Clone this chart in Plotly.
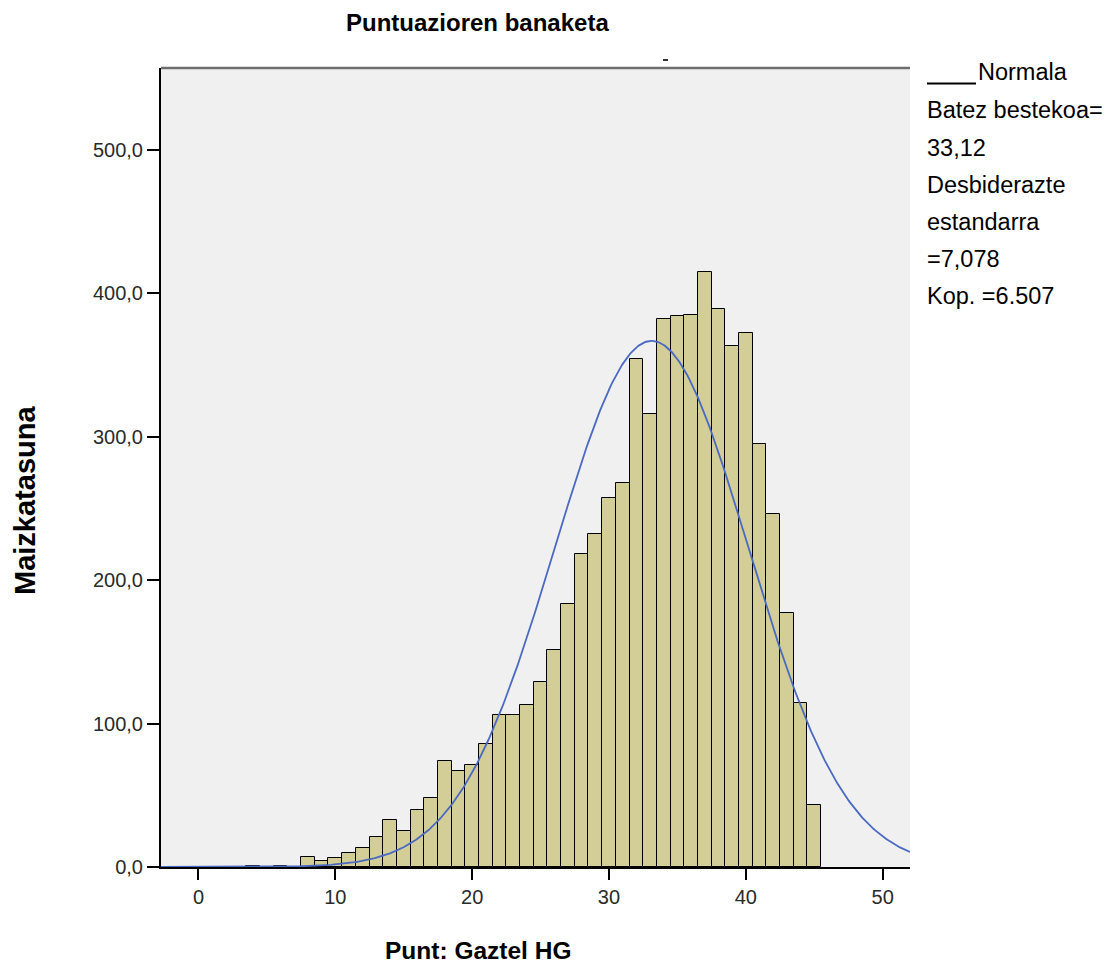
import numpy as np
import plotly.graph_objects as go

# Histogram bins (score value) and frequencies
bin_centers = list(range(4, 46))
frequencies = [1, 0, 1, 0, 7, 4, 6, 10, 13, 21, 33, 25, 40, 48, 74, 67, 71, 86,
               106, 106, 113, 129, 151, 183, 218, 232, 257, 268, 354, 316,
               382, 384, 385, 415, 389, 363, 372, 295, 246, 177, 114, 43]

# Normal-curve parameters stated in the chart
mean_val = 33.12
std_val = 7.078
n_val = 6507
bin_width = 1.0

y_tickvals = [0, 100, 200, 300, 400, 500]
y_ticktext = ["0,0", "100,0", "200,0", "300,0", "400,0", "500,0"]
x_tickvals = [0, 10, 20, 30, 40, 50]
x_ticktext = ["0", "10", "20", "30", "40", "50"]

legend_lines = ["Normala", "Batez bestekoa=", "33,12", "Desbiderazte",
                "estandarra", "=7,078", "Kop. =6.507"]

x_min, x_max = -2.74, 52.0
y_max = 557

xs = np.linspace(x_min, x_max, 600)
ys = n_val * bin_width * np.exp(-0.5 * ((xs - mean_val) / std_val) ** 2) / (std_val * np.sqrt(2 * np.pi))

fig = go.Figure()
fig.add_trace(go.Bar(
    x=bin_centers, y=frequencies, width=1.0,
    marker=dict(color="#D3CE97", line=dict(color="#000000", width=1)),
    showlegend=False, hoverinfo="skip",
))
fig.add_trace(go.Scatter(
    x=xs, y=ys, mode="lines",
    line=dict(color="#4A69C2", width=1.8),
    showlegend=False, hoverinfo="skip",
))

L, R, T, B = 161, 206, 68, 110
W, H = 1116, 977
pw = W - L - R
ph = H - T - B

def px_to_paper_x(px):
    return (px - L) / pw

def py_to_paper_y(py):
    return (H - B - py) / ph

FONT = "Liberation Sans, Arial"
annotations = []
annotations.append(dict(text="<b>Puntuazioren banaketa</b>", x=px_to_paper_x(477), y=py_to_paper_y(22),
                        xref="paper", yref="paper", xanchor="center", yanchor="middle", showarrow=False,
                        font=dict(family=FONT, size=24, color="#000000")))
annotations.append(dict(text="<b>Punt: Gaztel HG</b>", x=px_to_paper_x(478), y=py_to_paper_y(950),
                        xref="paper", yref="paper", xanchor="center", yanchor="middle", showarrow=False,
                        font=dict(family=FONT, size=24.5, color="#000000")))
annotations.append(dict(text="<b>Maizkatasuna</b>", x=px_to_paper_x(25), y=py_to_paper_y(501),
                        xref="paper", yref="paper", xanchor="center", yanchor="middle", showarrow=False,
                        textangle=-90,
                        font=dict(family=FONT, size=29, color="#000000")))
legend_x = [976, 925, 925, 925, 925, 925, 925]
legend_y = [72, 110, 148, 185, 222, 259, 296]
for txt, lx, ly in zip(legend_lines, legend_x, legend_y):
    annotations.append(dict(text=txt, x=px_to_paper_x(lx), y=py_to_paper_y(ly),
                            xref="paper", yref="paper", xanchor="left", yanchor="middle", showarrow=False,
                            font=dict(family=FONT, size=23.5, color="#000000")))

shapes = [
    dict(type="line", xref="paper", yref="paper", x0=0, x1=1, y0=1, y1=1,
         line=dict(color="#6E6E6E", width=2.5)),
    dict(type="line", xref="paper", yref="paper", x0=px_to_paper_x(663), x1=px_to_paper_x(668),
         y0=py_to_paper_y(60), y1=py_to_paper_y(60), line=dict(color="#333333", width=2)),
    # legend line sample for "Normala"
    dict(type="line", xref="paper", yref="paper", x0=px_to_paper_x(927), x1=px_to_paper_x(976),
         y0=py_to_paper_y(83.5), y1=py_to_paper_y(83.5), line=dict(color="#000000", width=2)),
]

fig.update_layout(
    width=W, height=H,
    margin=dict(l=L, r=R, t=T, b=B),
    paper_bgcolor="#FFFFFF",
    plot_bgcolor="#F0F0F0",
    bargap=0,
    hovermode=False,
    annotations=annotations,
    shapes=shapes,
    xaxis=dict(range=[x_min, x_max], tickvals=x_tickvals, ticktext=x_ticktext,
               showgrid=False, zeroline=False, showline=True, linecolor="#000000", linewidth=2,
               ticks="outside", ticklen=11, tickcolor="#000000", tickwidth=2,
               tickfont=dict(family=FONT, size=20, color="#2A2A2A")),
    yaxis=dict(range=[0, y_max], tickvals=y_tickvals, ticktext=y_ticktext,
               showgrid=False, zeroline=False, showline=True, linecolor="#000000", linewidth=2,
               ticks="outside", ticklen=12, tickcolor="#000000", tickwidth=2,
               tickfont=dict(family=FONT, size=20, color="#2A2A2A")),
)

fig.write_html("out.html", config={"displayModeBar": False},
               post_script="document.body.style.margin='0px';")
